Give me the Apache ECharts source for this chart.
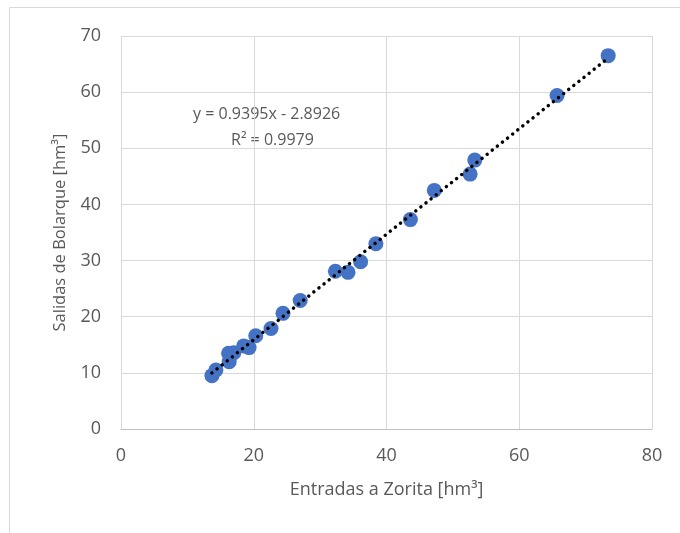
<!DOCTYPE html>
<html><head><meta charset="utf-8">
<script src="https://cdn.jsdelivr.net/npm/echarts@6/dist/echarts.min.js"></script>
<style>html,body{margin:0;padding:0;background:#fff}#c{width:680px;height:533px}</style>
</head><body><div id="c"></div>
<script>
var entradas = [13.7, 14.3, 16.2, 16.3, 17.0, 18.5, 19.3, 20.3, 22.6, 24.4, 27.0, 32.3, 34.2, 36.1, 38.4, 43.6, 47.2, 52.6, 53.3, 65.7, 73.4];
var salidas  = [9.5, 10.5, 13.5, 12.0, 13.6, 14.8, 14.5, 16.6, 17.9, 20.6, 22.9, 28.1, 27.9, 29.8, 33.0, 37.3, 42.5, 45.4, 47.9, 59.4, 66.5];
var slope = 0.9395, intercept = -2.8926;
var eqText = 'y = 0.9395x - 2.8926';
var r2Text = 'R² = 0.9979';
var xTicks = [0, 20, 40, 60, 80];
var yTicks = [0, 10, 20, 30, 40, 50, 60, 70];

var pts = entradas.map(function(x, i){ return [x, salidas[i]]; });
var xmin = Math.min.apply(null, entradas), xmax = Math.max.apply(null, entradas);
var trend = [[xmin, slope*xmin+intercept], [xmax, slope*xmax+intercept]];
var txt = '#595959', font = 'Open Sans';
var chart = echarts.init(document.getElementById('c'));
chart.setOption({
  animation: false,
  backgroundColor: '#fff',
  grid: {left: 121, right: 28, top: 36, bottom: 104, containLabel: false},
  graphic: [
    {type: 'rect', shape: {x: 9.5, y: 7.5, width: 700, height: 600}, style: {fill: 'none', stroke: '#D9D9D9', lineWidth: 1}, z: -1},
    {type: 'text', left: 193, top: 106, style: {text: eqText, fill: txt, fontSize: 16, fontFamily: font}},
    {type: 'text', left: 231, top: 132, style: {text: r2Text, fill: txt, fontSize: 16, fontFamily: font}}
  ],
  xAxis: {
    type: 'value', min: 0, max: 80, interval: 20,
    name: 'Entradas a Zorita [hm³]', nameLocation: 'middle', nameGap: 52,
    nameTextStyle: {color: txt, fontSize: 18, fontFamily: font},
    axisLine: {show: true, lineStyle: {color: '#BFBFBF', width: 1}},
    axisTick: {show: false},
    axisLabel: {color: txt, fontSize: 18, fontFamily: font, margin: 18},
    splitLine: {show: true, lineStyle: {color: '#D9D9D9', width: 1}}
  },
  yAxis: {
    type: 'value', min: 0, max: 70, interval: 10,
    name: 'Salidas de Bolarque [hm³]', nameLocation: 'middle', nameGap: 52,
    nameTextStyle: {color: txt, fontSize: 16.5, fontFamily: font},
    axisLine: {show: false},
    axisTick: {show: false},
    axisLabel: {color: txt, fontSize: 18, fontFamily: font, margin: 20},
    splitLine: {show: true, lineStyle: {color: '#D9D9D9', width: 1}}
  },
  series: [
    {type: 'scatter', data: pts, symbolSize: 15, itemStyle: {color: '#4472C4', opacity: 1}, z: 2},
    {type: 'line', data: trend, symbol: 'none', z: 3,
     lineStyle: {color: '#000', width: 3.5, type: [0.01, 6.5], cap: 'round'}}
  ]
});
</script></body></html>
